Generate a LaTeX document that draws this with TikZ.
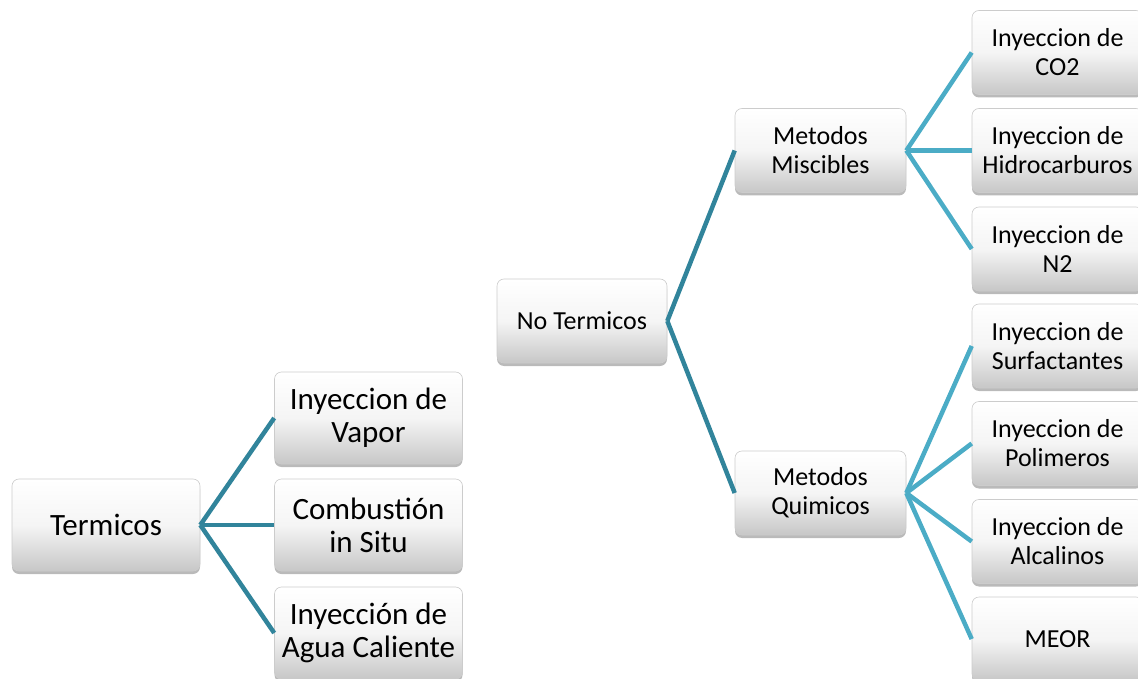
\documentclass[tikz,border=0pt]{standalone}
\usepackage{fontspec}
\setmainfont{Carlito}
\usetikzlibrary{shadows}
\definecolor{lineA}{HTML}{31849B}
\definecolor{lineB}{HTML}{4BACC6}
\tikzset{
  box/.style={rounded corners=7pt, draw=black!20, line width=0.6pt,
    top color=white, bottom color=black!22, middle color=black!4,
    drop shadow={shadow xshift=0pt, shadow yshift=-3pt, opacity=0.45, fill=black!60},
    align=center, inner sep=2pt, text=black},
  bigbox/.style={box, minimum width=188pt, minimum height=92pt,
    font=\fontsize{31}{33}\selectfont},
  smallbox/.style={box, minimum width=171pt, minimum height=84pt,
    font=\fontsize{26}{29}\selectfont},
  linkA/.style={draw=lineA, line width=4.5pt},
  linkB/.style={draw=lineB, line width=4.5pt}
}
\begin{document}
\begin{tikzpicture}[x=1pt,y=-1pt]
\useasboundingbox (0,0) rectangle (1138,679);
% left group
\node[bigbox] (term) at (106,525) {Termicos};
\node[bigbox] (vap) at (368.5,418) {Inyeccion de\\Vapor};
\node[bigbox] (comb) at (368.5,525) {Combustión\\in Situ};
\node[bigbox] (agua) at (368.5,633) {Inyección de\\Agua Caliente};
% right group
\node[smallbox, minimum width=170pt] (noterm) at (582,321) {No Termicos};
\node[smallbox] (misc) at (820.5,150.5) {Metodos\\Miscibles};
\node[smallbox] (quim) at (820.5,493) {Metodos\\Quimicos};
\node[smallbox] (co2) at (1057.5,52.5) {Inyeccion de\\CO2};
\node[smallbox] (hidro) at (1057.5,150.5) {Inyeccion de\\Hidrocarburos};
\node[smallbox] (n2) at (1057.5,249) {Inyeccion de\\N2};
\node[smallbox] (surf) at (1057.5,346) {Inyeccion de\\Surfactantes};
\node[smallbox] (pol) at (1057.5,443.5) {Inyeccion de\\Polimeros};
\node[smallbox] (alc) at (1057.5,541.5) {Inyeccion de\\Alcalinos};
\node[smallbox] (meor) at (1057.5,639) {MEOR};
% connectors
\draw[linkA] (term.east) -- (vap.west);
\draw[linkA] (term.east) -- (comb.west);
\draw[linkA] (term.east) -- (agua.west);
\draw[linkA] (noterm.east) -- (misc.west);
\draw[linkA] (noterm.east) -- (quim.west);
\draw[linkB] (misc.east) -- (co2.west);
\draw[linkB] (misc.east) -- (hidro.west);
\draw[linkB] (misc.east) -- (n2.west);
\draw[linkB] (quim.east) -- (surf.west);
\draw[linkB] (quim.east) -- (pol.west);
\draw[linkB] (quim.east) -- (alc.west);
\draw[linkB] (quim.east) -- (meor.west);
\end{tikzpicture}
\end{document}
